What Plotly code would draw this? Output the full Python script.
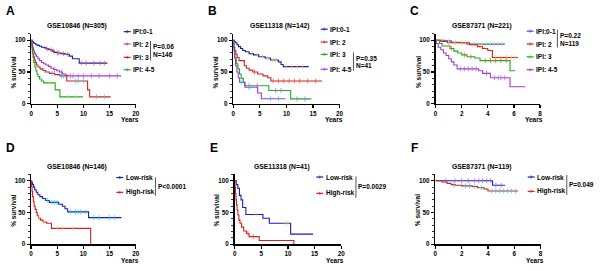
import numpy as np
import plotly.graph_objects as go

FONT = "Liberation Sans, Arial, sans-serif"
W, H = 600, 271

BLUE = "#1c1cb0"
LBLUE = "#4646e0"
RED = "#d42020"
GREEN = "#22a822"
PURPLE = "#a23ad6"

# ---------------- Panel A: GSE10846 (N=305) ----------------
a_title = "GSE10846 (N=305)"
a_names = ["IPI:0-1", "IPI: 2", "IPI: 3", "IPI: 4-5"]
a1_t = [0, 0.2, 0.4, 0.6, 0.9, 1.2, 1.6, 2.0, 2.5, 2.9, 3.4, 4.0, 4.4, 5.0, 5.7, 6.5, 7.3, 7.9, 9.2]
a1_s = [100, 98, 96, 95, 93, 92, 90.5, 89, 88, 86.5, 85, 83, 81, 80, 79, 78, 75, 71, 64]
a1_end = 14.6
a1_c = [3.0, 3.8, 4.3, 5.0, 5.3, 6.2, 7.0, 9.6, 10.5, 12.0, 13.2, 14.0]
a2_t = [0, 0.1, 0.2, 0.3, 0.45, 0.6, 0.8, 1.0, 1.3, 1.6, 2.0, 2.4, 2.8, 3.3, 3.8, 4.3, 4.9, 5.4, 6.0, 6.6, 7.0]
a2_s = [100, 96, 92, 88, 84, 80, 77, 74, 71, 68, 65, 63, 61, 59, 56, 54, 52, 50, 47, 45, 44]
a2_end = 17.2
a2_c = [4.5, 5.8, 7.5, 8.0, 9.0, 10.0, 11.5, 13.0, 15.0, 16.5]
a3_t = [0, 0.1, 0.2, 0.3, 0.45, 0.6, 0.8, 1.0, 1.3, 1.7, 2.2, 2.8, 3.5, 4.5, 5.5, 6.8, 10.8, 11.2]
a3_s = [100, 94, 88, 80, 74, 69, 65, 61, 58, 55, 52.5, 50, 48, 46, 44, 36, 22, 11]
a3_end = 15.2
a3_c = [2.5, 4.0, 5.8, 6.2, 8.5, 9.0, 10.0, 12.5, 14.0]
a4_t = [0, 0.1, 0.2, 0.35, 0.5, 0.7, 0.9, 1.1, 1.3, 1.6, 2.0, 2.4, 4.6, 5.5]
a4_s = [100, 88, 80, 73, 65, 58, 52, 47, 43, 39, 36, 33, 22, 11]
a4_end = 9.9
a4_c = [1.8, 3.5, 7.0, 8.5]
a_p = ["P=0.06", "N=146"]

# ---------------- Panel B: GSE11318 (N=142) ----------------
b_title = "GSE11318 (N=142)"
b_names = ["IPI:0-1", "IPI: 2", "IPI: 3", "IPI: 4-5"]
b1_t = [0, 0.2, 0.4, 0.7, 1.0, 1.4, 1.8, 2.3, 3.0, 3.8, 4.8, 6.0, 7.0, 8.5, 9.0, 9.4]
b1_s = [100, 98, 96, 93, 90, 87, 84, 82, 79, 77, 74, 72, 69, 66, 62, 58.5]
b1_end = 14.2
b1_c = [3.5, 4.5, 5.5, 6.5, 7.5, 8.0, 10.0, 11.0, 12.0, 13.0]
b2_t = [0, 0.05, 0.15, 0.3, 0.5, 0.75, 1.1, 2.1, 2.5, 3.0, 3.7, 4.6, 5.6, 6.5, 7.1]
b2_s = [100, 95, 89, 84, 78, 73, 68, 60, 56, 53, 50, 47, 44, 41, 36]
b2_end = 16.7
b2_c = [4.0, 7.5, 8.5, 9.5, 10.5, 11.5, 12.5, 14.0, 15.5]
b3_t = [0, 0.1, 0.2, 0.35, 0.6, 0.9, 1.2, 1.5, 1.9, 2.2, 6.7, 10.8]
b3_s = [100, 90, 82, 72, 63, 55, 47, 40, 34, 28.5, 21, 7.8]
b3_end = 14.7
b3_c = [3.0, 4.5, 8.0, 9.0, 12.0, 13.5]
b4_t = [0, 0.1, 0.25, 0.45, 0.7, 0.95, 1.2, 2.2, 4.6, 5.3]
b4_s = [100, 85, 72, 60, 50, 41, 34, 26, 17, 8]
b4_end = 9.8
b4_c = [1.5, 3.0, 7.0, 8.5]
b_p = ["P=0.35", "N=41"]

# ---------------- Panel C: GSE87371 (N=221) ----------------
c_title = "GSE87371 (N=221)"
c_names = ["IPI:0-1", "IPI: 2", "IPI: 3", "IPI: 4-5"]
c1_t = [0, 0.7, 1.2, 1.8, 2.4]
c1_s = [100, 99, 97, 96, 94]
c1_end = 5.3
c1_c = [0.5, 1.0, 1.5, 2.0, 2.5, 2.8, 3.0, 3.3, 3.6, 3.9, 4.2, 4.5, 4.8, 5.1]
c2_t = [0, 0.4, 0.9, 2.6, 3.2, 3.6, 4.0, 4.35]
c2_s = [100, 98, 96, 93, 90, 87, 84, 73]
c2_end = 6.3
c2_c = [1.0, 1.5, 2.0, 2.3, 3.5, 4.6, 5.0, 5.4, 5.8, 6.1]
c3_t = [0, 0.3, 0.5, 1.1, 1.4, 1.7, 2.0, 2.4, 3.0, 3.4, 5.7]
c3_s = [100, 95, 91, 87, 83, 80, 77, 74, 72, 68, 52]
c3_end = 6.1
c3_c = [1.2, 2.2, 2.7, 3.8, 4.2, 4.6, 5.0, 5.4]
c4_t = [0, 0.05, 0.2, 0.4, 0.6, 0.8, 1.0, 1.2, 1.4, 1.65, 3.3, 3.6, 4.2, 5.7]
c4_s = [100, 95, 89, 85, 80, 76, 71, 66, 61, 55, 52, 48, 41, 27]
c4_end = 6.85
c4_c = [1.9, 2.2, 2.5, 2.8, 3.1, 3.9, 4.5, 4.8, 5.0, 5.3]
c_p = ["P=0.22", "N=119"]

# ---------------- Panel D: GSE10846 (N=146) ----------------
d_title = "GSE10846 (N=146)"
risk_names = ["Low-risk", "High-risk"]
d1_t = [0, 0.15, 0.3, 0.5, 0.7, 1.0, 1.3, 1.7, 2.2, 2.8, 3.5, 5.3, 6.0, 6.5, 7.0, 11.0]
d1_s = [100, 97, 94, 90, 86, 82, 78, 75, 72, 69, 66, 63, 60, 56, 51, 42]
d1_end = 17.3
d1_c = [3.2, 4.0, 4.5, 5.0, 7.5, 8.5, 9.0, 9.5, 10.5, 12.0, 13.0, 15.0, 16.0]
d2_t = [0, 0.1, 0.2, 0.3, 0.45, 0.6, 0.8, 1.0, 1.2, 1.45, 1.8, 2.3, 3.0, 3.9, 11.4]
d2_s = [100, 91, 83, 75, 67, 60, 55, 50, 45, 41, 38, 35, 33, 25, 0]
d2_end = 11.4
d2_c = [1.5, 2.5, 5.0, 6.0, 8.0]
d_p = ["P<0.0001"]

# ---------------- Panel E: GSE11318 (N=41) ----------------
e_title = "GSE11318 (N=41)"
e1_t = [0, 0.3, 0.6, 0.9, 1.2, 1.5, 2.1, 5.3, 6.5, 10.5]
e1_s = [100, 94, 88, 77, 70, 58, 47, 41, 33, 16]
e1_end = 14.7
e1_c = [4.0, 9.5, 10.0]
e2_t = [0, 0.05, 0.15, 0.25, 0.35, 0.45, 0.6, 0.8, 1.0, 1.3, 1.7, 2.2, 2.7, 4.6, 11.1]
e2_s = [100, 90, 80, 70, 62, 54, 46, 38, 33, 27, 21, 17, 12, 6, 0]
e2_end = 11.1
e2_c = [2.5, 3.5]
e_p = ["P=0.0029"]

# ---------------- Panel F: GSE87371 (N=119) ----------------
f_title = "GSE87371 (N=119)"
f1_t = [0, 4.35]
f1_s = [100, 93]
f1_end = 5.3
f1_c = [0.8, 1.5, 2.0, 2.5, 3.0, 3.3, 3.6, 3.9, 4.2, 4.6, 5.0]
f2_t = [0, 0.5, 0.9, 1.2, 1.5, 2.0, 2.8, 3.2, 3.7, 4.0]
f2_s = [100, 98, 96, 94, 93, 92, 91, 89, 87, 84]
f2_end = 6.3
f2_c = [1.4, 2.3, 2.6, 3.0, 3.5, 4.3, 4.6, 4.9, 5.2, 5.5, 5.8, 6.1]
f_p = ["P=0.049"]

y_ticks = [0, 50, 100]
x_ticks_long = [0, 5, 10, 15, 20]
x_ticks_short = [0, 2, 4, 6, 8]

TXT = 6.5      # legend / p-value text size
TTL = 6.8      # panel title size
TCK = 6.3      # tick label size

panels = [
    dict(letter="A", title=a_title, x0=29.5, x1=135, row=0, xmax=20, xt=x_ticks_long,
         curves=[(a1_t, a1_s, a1_end, a1_c, BLUE), (a2_t, a2_s, a2_end, a2_c, PURPLE),
                 (a3_t, a3_s, a3_end, a3_c, RED), (a4_t, a4_s, a4_end, a4_c, GREEN)],
         names=a_names, leg_x=123, leg_y=[32, 44.5, 58, 70.5],
         br_x=150, br_y=(41.5, 61), p=a_p, p_y=[47, 55]),
    dict(letter="B", title=b_title, x0=233.5, x1=341, row=0, xmax=20, xt=x_ticks_long,
         curves=[(b1_t, b1_s, b1_end, b1_c, BLUE), (b2_t, b2_s, b2_end, b2_c, RED),
                 (b3_t, b3_s, b3_end, b3_c, GREEN), (b4_t, b4_s, b4_end, b4_c, PURPLE)],
         names=b_names, leg_x=322, leg_y=[29.5, 42.5, 55, 70],
         br_x=355, br_y=(53, 71.5), p=b_p, p_y=[59, 66.5]),
    dict(letter="C", title=c_title, x0=438, x1=543.5, row=0, xmax=8, xt=x_ticks_short,
         curves=[(c1_t, c1_s, c1_end, c1_c, LBLUE), (c2_t, c2_s, c2_end, c2_c, RED),
                 (c3_t, c3_s, c3_end, c3_c, GREEN), (c4_t, c4_s, c4_end, c4_c, PURPLE)],
         names=c_names, leg_x=530, leg_y=[31.5, 44.5, 57.5, 70.5],
         br_x=561, br_y=(30, 48), p=c_p, p_y=[36, 43.5]),
    dict(letter="D", title=d_title, x0=29.3, x1=135, row=1, xmax=20, xt=x_ticks_long,
         curves=[(d1_t, d1_s, d1_end, d1_c, BLUE), (d2_t, d2_s, d2_end, d2_c, RED)],
         names=risk_names, leg_x=115.5, leg_y=[179.5, 194.5],
         br_x=155, br_y=(179.5, 198), p=d_p, p_y=[188.5]),
    dict(letter="E", title=e_title, x0=235, x1=342.7, row=1, xmax=20, xt=x_ticks_long,
         curves=[(e1_t, e1_s, e1_end, e1_c, BLUE), (e2_t, e2_s, e2_end, e2_c, RED)],
         names=risk_names, leg_x=317.5, leg_y=[179, 195.5],
         br_x=357.5, br_y=(178.5, 200), p=e_p, p_y=[188.5]),
    dict(letter="F", title=f_title, x0=437.7, x1=544, row=1, xmax=8, xt=x_ticks_short,
         curves=[(f1_t, f1_s, f1_end, f1_c, BLUE), (f2_t, f2_s, f2_end, f2_c, RED)],
         names=risk_names, leg_x=531, leg_y=[179, 193.5],
         br_x=570.5, br_y=(177, 197), p=f_p, p_y=[186.5]),
]

rows = [dict(ybot=105, ytop=34.3, title_y=26.5, ylab_y=73, years_y=121, letter_y=11.5),
        dict(ybot=247, ytop=176.4, title_y=168.5, ylab_y=213, years_y=263.5, letter_y=150)]


def px(x, y):
    return x / W, 1 - y / H


def step_value(times, surv, t):
    idx = int(np.searchsorted(np.asarray(times), t, side="right")) - 1
    return surv[max(idx, 0)]


fig = go.Figure()
annotations = []
shapes = []
layout_axes = {}


def txt_ann(text, x, y, size, xanchor="left", angle=0):
    ax, ay = px(x, y)
    return dict(text=f"<b>{text}</b>", x=ax, y=ay, xref="paper", yref="paper",
                showarrow=False, xanchor=xanchor, yanchor="middle", textangle=angle,
                borderpad=0, font=dict(family=FONT, size=size, color="black"))


for i, p in enumerate(panels):
    n = i + 1
    xa = "x" if n == 1 else f"x{n}"
    ya = "y" if n == 1 else f"y{n}"
    r = rows[p["row"]]
    for (t, s, end, cens, col), name in zip(p["curves"], p["names"]):
        xs = list(t) + [end]
        ys = list(s) + [s[-1]]
        fig.add_trace(go.Scatter(x=xs, y=ys, mode="lines", line=dict(color=col, width=1.1, shape="hv"),
                                 xaxis=xa, yaxis=ya, name=name, showlegend=False, hoverinfo="skip"))
        cy = [step_value(t, s, c) for c in cens]
        fig.add_trace(go.Scatter(x=cens, y=cy, mode="markers",
                                 marker=dict(symbol="line-ns-open", size=3.5, line=dict(color=col, width=0.8)),
                                 xaxis=xa, yaxis=ya, showlegend=False, hoverinfo="skip"))
    xkey = "xaxis" if n == 1 else f"xaxis{n}"
    ykey = "yaxis" if n == 1 else f"yaxis{n}"
    layout_axes[xkey] = dict(
        domain=[p["x0"] / W, p["x1"] / W], anchor=ya, range=[0, p["xmax"]],
        tickvals=p["xt"], ticks="outside", ticklen=3, tickwidth=1.2, tickcolor="black",
        showline=True, linecolor="black", linewidth=1.5, showgrid=False, zeroline=False,
        tickfont=dict(family=FONT, size=TCK, color="black", weight="bold"), fixedrange=True)
    layout_axes[ykey] = dict(
        domain=[1 - r["ybot"] / H, 1 - r["ytop"] / H], anchor=xa, range=[0, 110],
        tickvals=y_ticks, ticks="outside", ticklen=3, tickwidth=1.2, tickcolor="black",
        minor=dict(dtick=10, ticks="outside", ticklen=1.8, tickwidth=0.8, tickcolor="black"),
        showline=True, linecolor="black", linewidth=1.5, showgrid=False, zeroline=False,
        tickfont=dict(family=FONT, size=TCK, color="black", weight="bold"), fixedrange=True)

    annotations.append(txt_ann(p["letter"], p["x0"] - 21, r["letter_y"], 12, "center"))
    annotations.append(txt_ann(p["title"], (p["x0"] + p["x1"]) / 2 - 6, r["title_y"], TTL, "center"))
    annotations.append(txt_ann("% survival", p["x0"] - 18, r["ylab_y"], TXT, "center", -90))
    annotations.append(txt_ann("Years", p["x1"] - 6, r["years_y"], TXT, "center"))

    for (t, s, end, cens, col), name, ly_ in zip(p["curves"], p["names"], p["leg_y"]):
        ax0, ay = px(p["leg_x"], ly_)
        ax1, _ = px(p["leg_x"] + 7, ly_)
        shapes.append(dict(type="line", xref="paper", yref="paper", x0=ax0, x1=ax1, y0=ay, y1=ay,
                           line=dict(color=col, width=1.2)))
        mx, _ = px(p["leg_x"] + 3.5, ly_)
        _, my0 = px(0, ly_ - 1.5)
        _, my1 = px(0, ly_ + 1.5)
        shapes.append(dict(type="line", xref="paper", yref="paper", x0=mx, x1=mx, y0=my0, y1=my1,
                           line=dict(color=col, width=0.8)))
        annotations.append(txt_ann(name, p["leg_x"] + 8.5, ly_, TXT))

    bx, by0 = px(p["br_x"], p["br_y"][0])
    _, by1 = px(p["br_x"], p["br_y"][1])
    shapes.append(dict(type="line", xref="paper", yref="paper", x0=bx, x1=bx, y0=by0, y1=by1,
                       line=dict(color="#555555", width=1)))
    for txt, ypos in zip(p["p"], p["p_y"]):
        annotations.append(txt_ann(txt, p["br_x"] + 1.5, ypos, TXT))

fig.update_layout(
    width=W, height=H, margin=dict(l=0, r=0, t=0, b=0),
    paper_bgcolor="white", plot_bgcolor="white", showlegend=False,
    annotations=annotations, shapes=shapes, **layout_axes)

fig.write_html("out.html", config={"displayModeBar": False, "staticPlot": True},
               post_script="document.body.style.margin='0px';document.body.style.overflow='hidden';")
